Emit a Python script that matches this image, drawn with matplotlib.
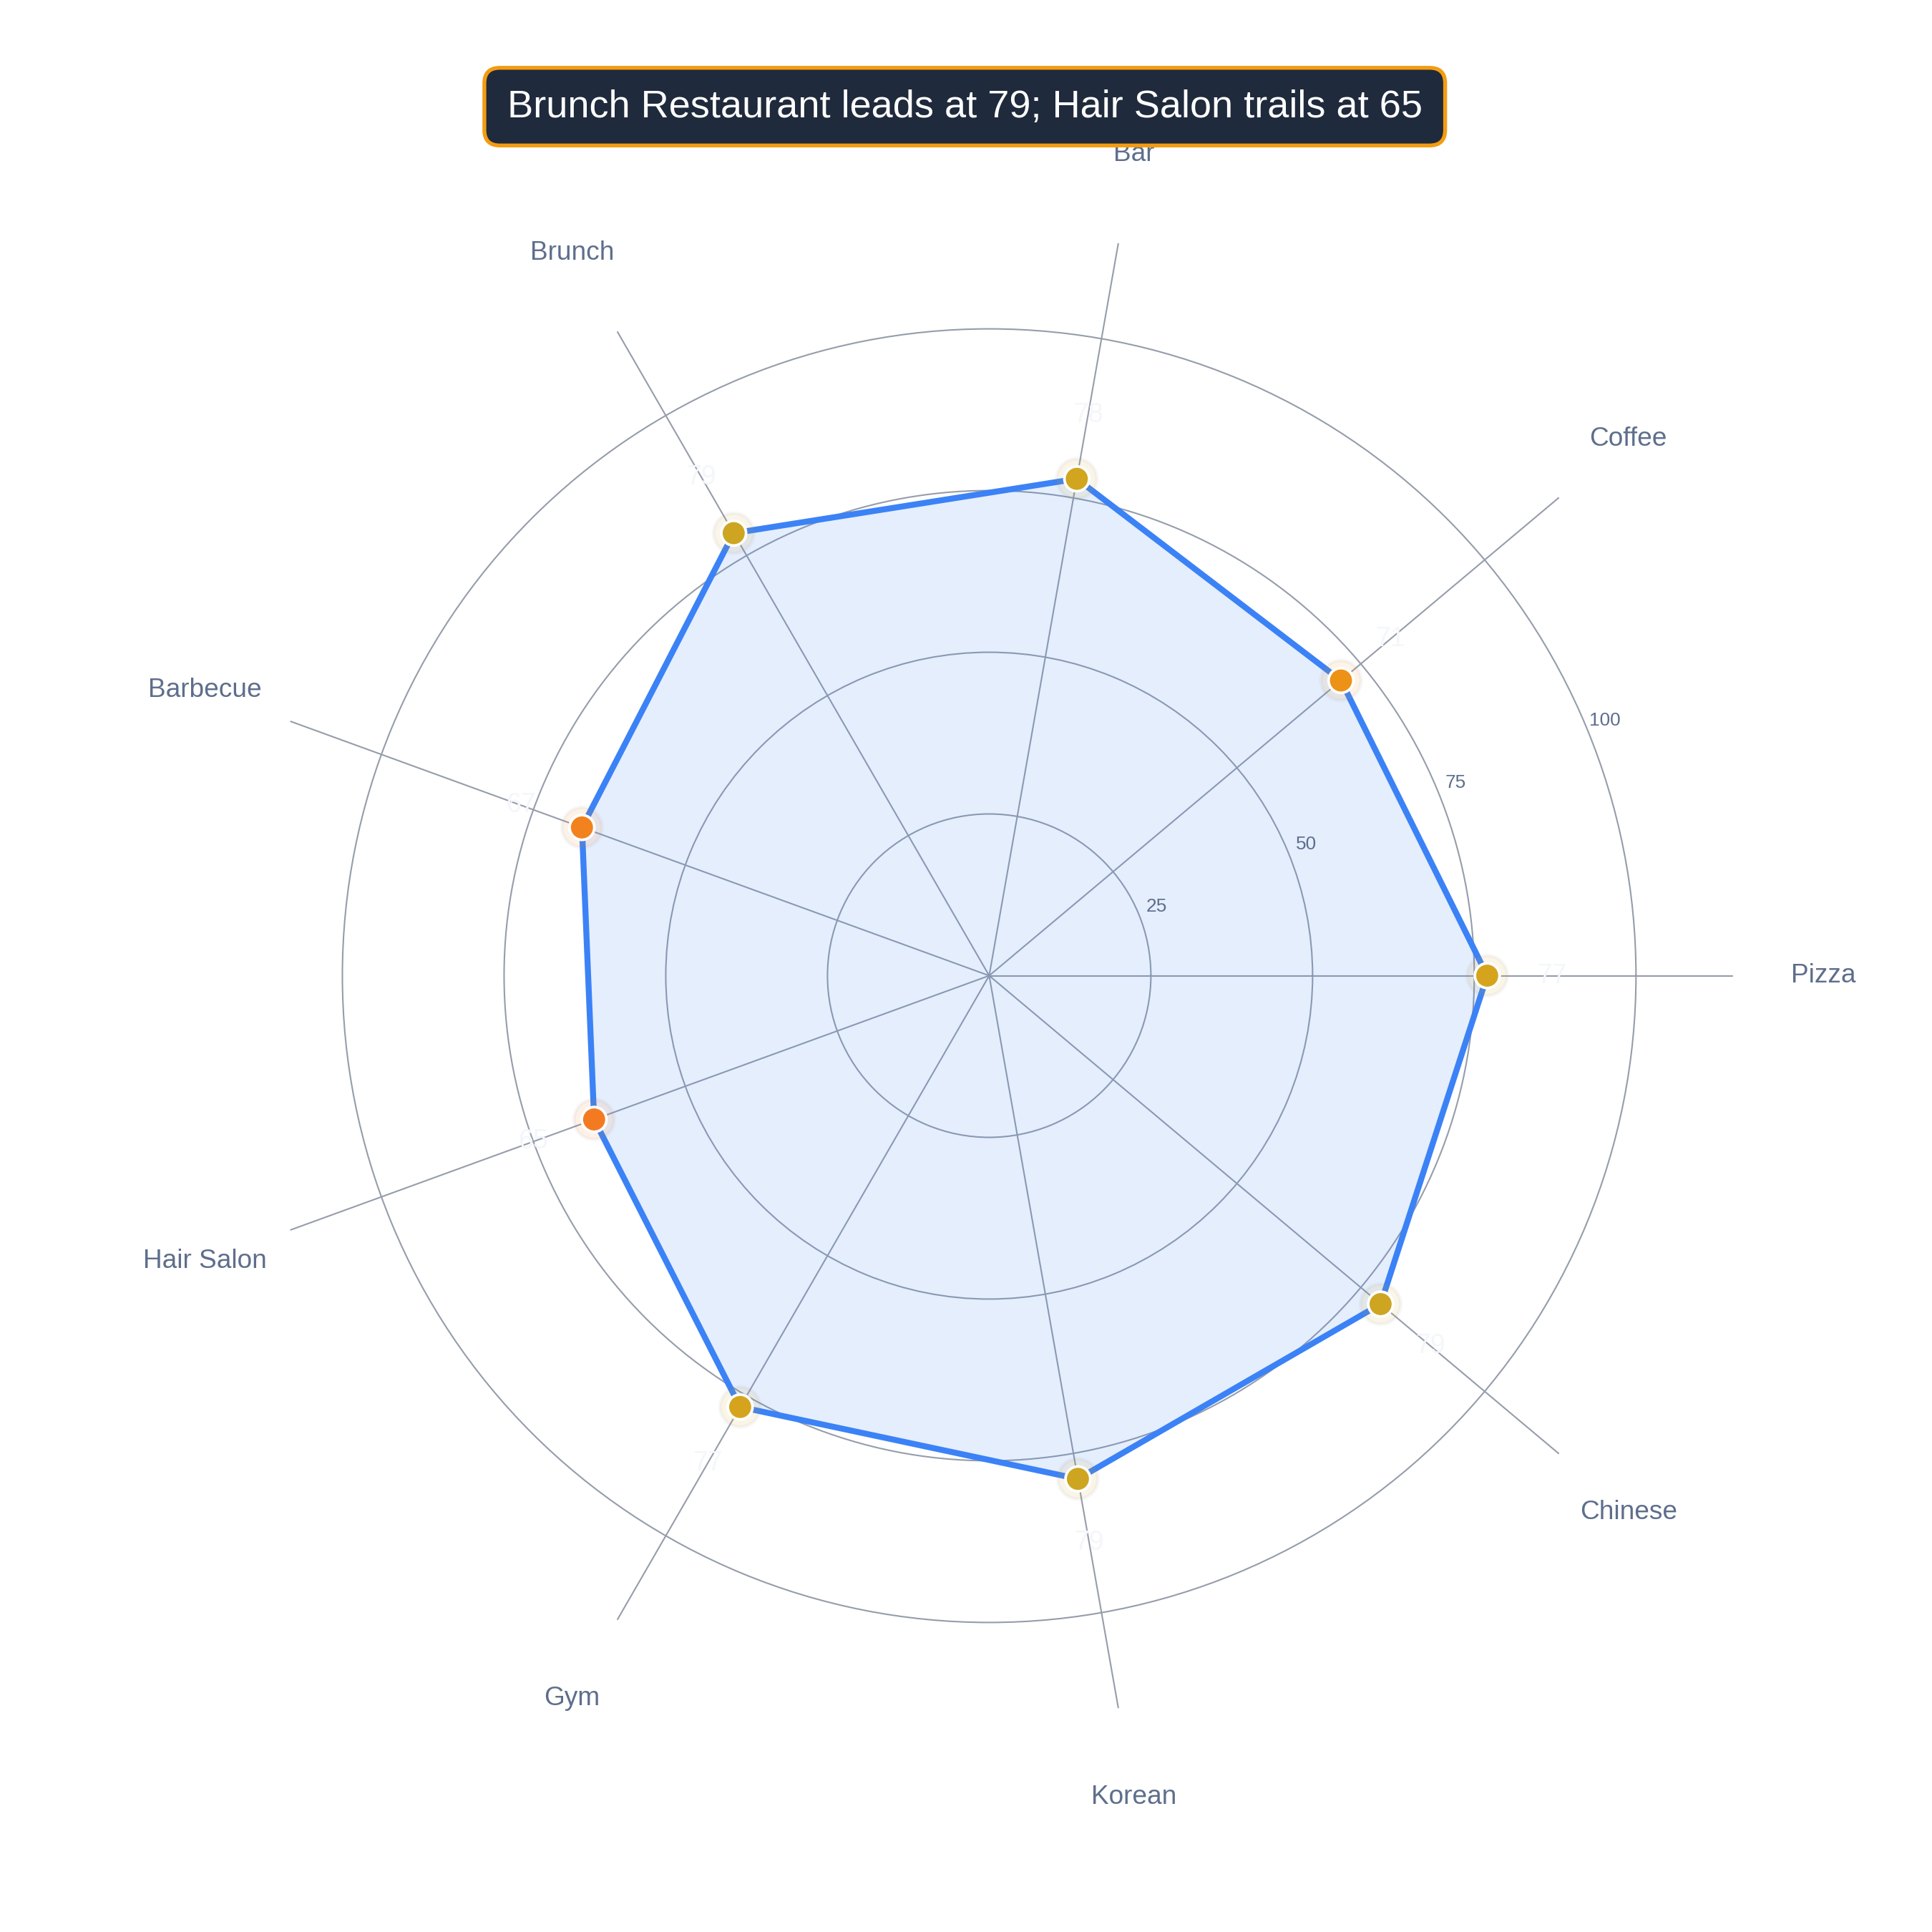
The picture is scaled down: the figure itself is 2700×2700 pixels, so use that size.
import numpy as np
import matplotlib
matplotlib.use('Agg')
import matplotlib.pyplot as plt
from matplotlib.colors import LinearSegmentedColormap, Normalize
from matplotlib.patches import FancyBboxPatch

plt.rcParams['font.family'] = ['Liberation Sans', 'DejaVu Sans']

# 資料
categories = ['Pizza', 'Coffee', 'Bar', 'Brunch', 'Barbecue',
              'Hair Salon', 'Gym', 'Korean', 'Chinese']
scores = [77, 71, 78, 79, 67, 65, 77, 79, 79]
radial_ticks = [25, 50, 75, 100]
title_text = 'Brunch Restaurant leads at 79; Hair Salon trails at 65'

# 顏色
LINE_BLUE = '#3B82F6'
GRID = '#959DAA'
LABEL = '#5E6E8C'
marker_cmap = LinearSegmentedColormap.from_list(
    'heat', ['#F47A22', '#F08C16', '#E2A316', '#CDA520'])

fig = plt.figure(figsize=(9, 9), dpi=300)
ax = fig.add_axes([0.127, 0.110, 0.77, 0.77], projection='polar')

n = len(categories)
theta = np.linspace(0, 2 * np.pi, n, endpoint=False)
theta_c = np.append(theta, theta[0])
scores_c = np.append(scores, scores[0])

ax.set_ylim(0, 115)
ax.set_xticks(theta)
ax.set_xticklabels([])
ax.set_yticks(radial_ticks)
ax.set_yticklabels([])
ax.spines['polar'].set_visible(False)
ax.grid(True, color=GRID, linewidth=0.5)
ax.tick_params(length=0)

# 半徑刻度文字
for t in radial_ticks:
    ax.text(np.deg2rad(22.5), t + 3, str(t), fontsize=6.3, color=LABEL,
            ha='center', va='center')

# 類別標籤
for ang, name in zip(theta, categories):
    ax.text(ang, 129, name, fontsize=8.9, color=LABEL,
            ha='center', va='center', clip_on=False)

# 面積與線
ax.fill(theta_c, scores_c, color=LINE_BLUE, alpha=0.13, linewidth=0, zorder=2)
ax.plot(theta_c, scores_c, color=LINE_BLUE, linewidth=2.0, zorder=3)

norm = Normalize(vmin=min(scores), vmax=max(scores))
colors = [marker_cmap(norm(v)) for v in scores]
halo = [(c[0], c[1], c[2], 0.10) for c in colors]
ax.scatter(theta, scores, s=13.5 ** 2, c=halo, edgecolors=(0.5, 0.5, 0.55, 0.06),
           linewidths=1.2, zorder=4)
ax.scatter(theta, scores, s=8.3 ** 2, c=colors, edgecolors='white',
           linewidths=0.9, zorder=5)

# 數值標籤 (幾乎白色)
for ang, v in zip(theta, scores):
    ax.text(ang, v + 10, str(v), fontsize=9, color='#F4F6FA',
            ha='center', va='center', zorder=6)

# 標題框
box = FancyBboxPatch((0.2507, 0.9247), 0.4973, 0.0402,
                     boxstyle='round,pad=0,rounding_size=0.008',
                     transform=fig.transFigure, facecolor='#1F2A3C',
                     edgecolor='#F39C12', linewidth=1.3)
fig.patches.append(box)
fig.text(0.4994, 0.9445, title_text, fontsize=13, color='white',
         ha='center', va='center')

fig.savefig('out.png', dpi=300, facecolor='white')
